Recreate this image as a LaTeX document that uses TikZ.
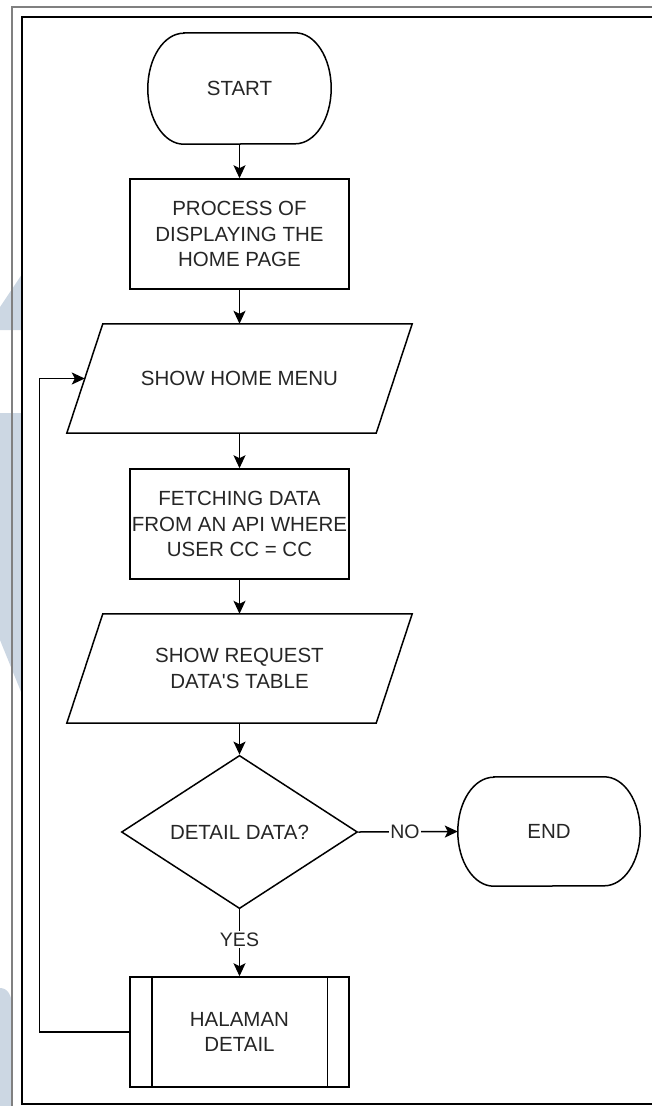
\documentclass[tikz,border=0pt]{standalone}
\usepackage{fontspec}
\setmainfont{Liberation Sans}
\usetikzlibrary{shapes.geometric,arrows.meta}
\definecolor{wm}{HTML}{CCD7E3}
\definecolor{txt}{HTML}{262626}
\definecolor{frame}{HTML}{808080}
\newcommand\drawterm[2]{\draw[line width=1.5pt] ([xshift=36pt]#1.north west) -- ([xshift=-36pt]#1.north east) arc[start angle=90,end angle=-90,x radius=36pt,y radius=#2] -- ([xshift=36pt]#1.south west) arc[start angle=270,end angle=90,x radius=36pt,y radius=#2] -- cycle;}
\newcommand\drawio[1]{\draw[line width=1.5pt] ([xshift=18pt]#1.north west) -- ([xshift=18pt]#1.north east) -- ([xshift=-18pt]#1.south east) -- ([xshift=-18pt]#1.south west) -- cycle;}
\begin{document}
\begin{tikzpicture}[x=1pt,y=-1pt,
  every node/.style={font=\fontsize{20.5}{25.3}\selectfont, text=txt},
  box/.style={draw, line width=1.5pt, minimum width=219pt, minimum height=110pt, align=center, inner sep=0pt},
  term/.style={minimum width=183pt, inner sep=0pt, align=center},
  io/.style={minimum width=309pt, minimum height=109pt, inner sep=0pt, align=center},
  dia/.style={shape=diamond, draw, line width=1.5pt, minimum width=236pt, minimum height=144pt, inner sep=0pt, align=center},
  conn/.style={line width=1.5pt, -{Stealth[length=13pt,width=12pt,inset=3pt]}},
  lbl/.style={fill=white, inner sep=1.5pt, font=\fontsize{19.5}{22}\selectfont}]
\useasboundingbox (0,0) rectangle (652,1106);
\clip (0,0) rectangle (652,1106);
% watermark
\fill[wm] (0,307) -- (21.5,275) -- (21.5,330) -- (0,330) -- cycle;
\fill[wm] (0,413) -- (21.5,413) -- (21.5,693) -- (0,640) -- cycle;
\fill[wm] (0,1112) -- (0,988) .. controls (8,988) and (12,996) .. (12,1006) -- (12,1112) -- cycle;
% frames
\draw[frame, line width=1.5pt] (12,1112) -- (12,7) -- (660,7);
\draw[line width=1.5pt] (660,17) -- (22,17) -- (22,1104) -- (660,1104);
% nodes
\node[term, minimum height=111pt] (start) at (239.5,88.5) {START};
\drawterm{start}{55.5pt}
\node[box] (proc) at (239.5,234) {PROCESS OF\\DISPLAYING THE\\HOME PAGE};
\node[io] (menu) at (239.5,378.5) {SHOW HOME MENU};
\drawio{menu}
\node[box] (fetch) at (239.5,524) {FETCHING DATA\\FROM AN API WHERE\\USER CC = CC};
\node[io] (req) at (239.5,668.5) {SHOW REQUEST\\DATA\textquotesingle S TABLE};
\drawio{req}
\node[dia] (dec) at (239.5,832) {DETAIL DATA?};
\node[term, minimum height=109pt, minimum width=182pt] (end) at (549,831.5) {END};
\drawterm{end}{54.5pt}
\node[box] (det) at (239.5,1032) {HALAMAN\\DETAIL};
\draw[line width=1.5pt] ([xshift=22.5pt]det.north west) -- ([xshift=22.5pt]det.south west);
\draw[line width=1.5pt] ([xshift=-22.5pt]det.north east) -- ([xshift=-22.5pt]det.south east);
% connectors
\draw[conn] (start.south) -- (proc.north);
\draw[conn] (proc.south) -- (menu.north);
\draw[conn] (menu.south) -- (fetch.north);
\draw[conn] (fetch.south) -- (req.north);
\draw[conn] (req.south) -- (dec.north);
\draw[conn] (dec.east) -- node[lbl, pos=0.47] {NO} (end.west);
\draw[conn] (dec.south) -- node[lbl, pos=0.45] {YES} (det.north);
\draw[conn] (det.west) -- ++(-90,0) |- (menu.west);
\end{tikzpicture}
\end{document}
